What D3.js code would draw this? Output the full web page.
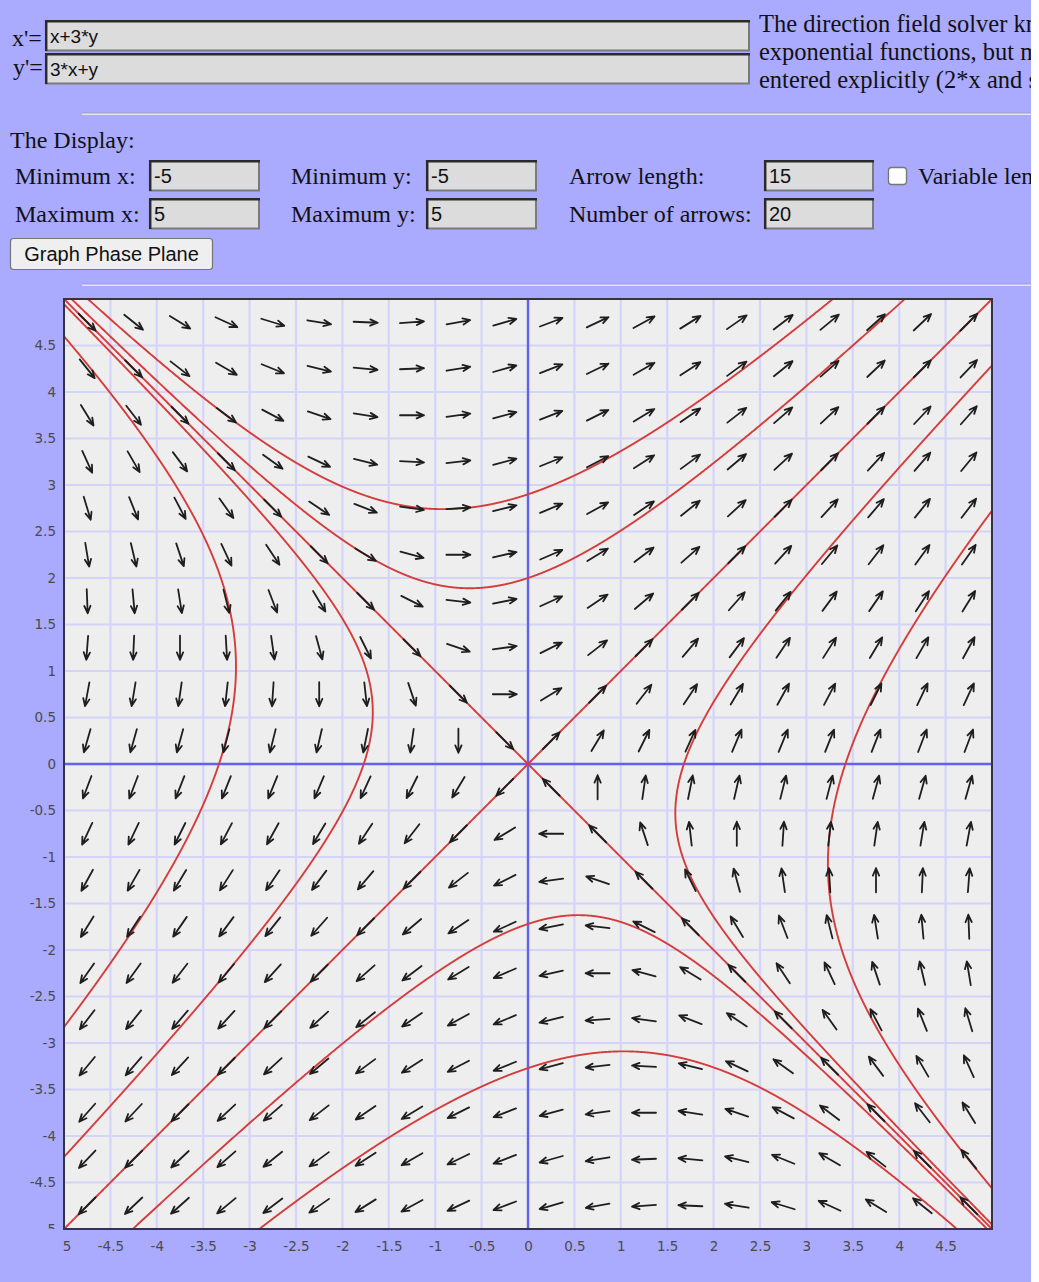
<!DOCTYPE html>
<html>
<head>
<meta charset="utf-8">
<script src="https://cdn.jsdelivr.net/npm/d3@7"></script>
<style>
  html, body { margin: 0; padding: 0; background: #aaaaff; overflow: hidden; }
  svg { display: block; }
</style>
</head>
<body>
<svg id="page" width="1039" height="1282"></svg>
<script>
// ---- system x' = x + 3y, y' = 3x + y ----
const xEquation = "x+3*y";
const yEquation = "3*x+y";
const xCoef = [1, 3];   // x' = a*x + b*y
const yCoef = [3, 1];   // y' = c*x + d*y

// display settings
const minX = -5, maxX = 5, minY = -5, maxY = 5;
const arrowLength = 15, arrowCount = 20;

// tick labels along each axis
const xTicks = [-5, -4.5, -4, -3.5, -3, -2.5, -2, -1.5, -1, -0.5, 0, 0.5, 1, 1.5, 2, 2.5, 3, 3.5, 4, 4.5];
const yTicks = [-5, -4.5, -4, -3.5, -3, -2.5, -2, -1.5, -1, -0.5, 0, 0.5, 1, 1.5, 2, 2.5, 3, 3.5, 4, 4.5];
const gridLines = [-5, -4.5, -4, -3.5, -3, -2.5, -2, -1.5, -1, -0.5, 0, 0.5, 1, 1.5, 2, 2.5, 3, 3.5, 4, 4.5, 5];

// direction-field sample positions (cell centres)
const arrowXs = [-4.75, -4.25, -3.75, -3.25, -2.75, -2.25, -1.75, -1.25, -0.75, -0.25,
                  0.25, 0.75, 1.25, 1.75, 2.25, 2.75, 3.25, 3.75, 4.25, 4.75];
const arrowYs = [-4.75, -4.25, -3.75, -3.25, -2.75, -2.25, -1.75, -1.25, -0.75, -0.25,
                  0.25, 0.75, 1.25, 1.75, 2.25, 2.75, 3.25, 3.75, 4.25, 4.75];

// starting points of the traced solution curves
const seedX = [-4.9, 4.9, 4.9, -4.9, 0, 0, 1.68, 3.42, -1.77, -3.33, 0, 0];
const seedY = [4.9, -4.9, 4.9, -4.9, 2.9, 2.0, 0, 0, 0, 0, -1.72, -3.27];

const svg = d3.select("#page");
const serif = "'Liberation Serif', 'Times New Roman', serif";
const sans = "'Liberation Sans', Arial, sans-serif";

// page background and right strip
svg.append("rect").attr("x", 0).attr("y", 0).attr("width", 1039).attr("height", 1282).attr("fill", "#aaaaff");
svg.append("rect").attr("x", 1031).attr("y", 0).attr("width", 8).attr("height", 1282).attr("fill", "#ffffff");

// ---------- form ----------
svg.append("clipPath").attr("id", "pageClip")
  .append("rect").attr("x", 0).attr("y", 0).attr("width", 1031).attr("height", 1282);
const formG = svg.append("g").attr("clip-path", "url(#pageClip)");

function textBox(x, y, w, h, value, fs) {
  const g = formG.append("g");
  g.append("rect").attr("x", x).attr("y", y).attr("width", w).attr("height", h).attr("fill", "#dcdcdc");
  g.append("path").attr("d", `M${x + w},${y + h - 0.5} H${x + 0.5} `).attr("stroke", "#7a7a7a").attr("stroke-width", 2).attr("fill", "none");
  g.append("path").attr("d", `M${x + w - 1},${y} V${y + h}`).attr("stroke", "#7a7a7a").attr("stroke-width", 2).attr("fill", "none");
  g.append("path").attr("d", `M${x + 1.2},${y + h} V${y + 1.2} H${x + w}`).attr("stroke", "#2a2a2a").attr("stroke-width", 2.5).attr("fill", "none");
  g.append("text").attr("x", x + 5).attr("y", y + h - 8).attr("font-family", sans).attr("font-size", fs)
    .attr("fill", "#111").text(value);
}
function label(x, y, txt, fs) {
  formG.append("text").attr("x", x).attr("y", y).attr("font-family", serif).attr("font-size", fs || 24)
    .attr("fill", "#111").text(txt);
}

label(12, 46, "x'=");
label(13, 75, "y'=");
textBox(45, 20, 705, 31, xEquation, 19);
textBox(45, 53, 705, 31, yEquation, 19);

const note = ["The direction field solver knows",
              "exponential functions, but multiplication",
              "entered explicitly (2*x and sin(x))."];
note.forEach((t, i) => label(759, 32 + i * 28, t, 24.5));

function rule(y) {
  formG.append("rect").attr("x", 82).attr("y", y).attr("width", 960).attr("height", 1).attr("fill", "#9a9ac8");
  formG.append("rect").attr("x", 82).attr("y", y + 1).attr("width", 960).attr("height", 1.5).attr("fill", "#e4e4f0");
}
rule(112.5);

label(10, 148, "The Display:");
label(15, 184, "Minimum x:");
label(15, 222, "Maximum x:");
label(291, 184, "Minimum y:");
label(291, 222, "Maximum y:");
label(569, 184, "Arrow length:");
label(569, 222, "Number of arrows:");
textBox(149, 160, 111, 31, String(minX), 20);
textBox(149, 198, 111, 31, String(maxX), 20);
textBox(426, 160, 111, 31, String(minY), 20);
textBox(426, 198, 111, 31, String(maxY), 20);
textBox(764, 160, 110, 31, String(arrowLength), 20);
textBox(764, 198, 110, 31, String(arrowCount), 20);
formG.append("rect").attr("x", 888.5).attr("y", 167.5).attr("width", 18).attr("height", 17).attr("rx", 3)
  .attr("fill", "#ffffff").attr("stroke", "#767676").attr("stroke-width", 1.3);
label(918, 184, "Variable length");

formG.append("rect").attr("x", 10.5).attr("y", 238.5).attr("width", 202).attr("height", 31).attr("rx", 3)
  .attr("fill", "#efefef").attr("stroke", "#767676").attr("stroke-width", 1.2);
formG.append("text").attr("x", 111.5).attr("y", 261).attr("text-anchor", "middle").attr("font-family", sans)
  .attr("font-size", 20).attr("fill", "#111").text("Graph Phase Plane");
rule(283.5);

// ---------- phase plane ----------
const plot = { left: 64, right: 992, top: 299, bottom: 1229 };
const x = d3.scaleLinear().domain([minX, maxX]).range([plot.left, plot.right]);
const y = d3.scaleLinear().domain([minY, maxY]).range([plot.bottom, plot.top]);

svg.append("clipPath").attr("id", "plotClip")
  .append("rect").attr("x", plot.left).attr("y", plot.top)
  .attr("width", plot.right - plot.left).attr("height", plot.bottom - plot.top);

svg.append("rect").attr("x", plot.left).attr("y", plot.top)
  .attr("width", plot.right - plot.left).attr("height", plot.bottom - plot.top).attr("fill", "#eeeeee");

const grid = svg.append("g").attr("clip-path", "url(#plotClip)");
grid.selectAll("line.gx").data(gridLines).join("line").attr("class", "gx")
  .attr("x1", d => x(d)).attr("x2", d => x(d)).attr("y1", plot.top).attr("y2", plot.bottom)
  .attr("stroke", "#d4d4fa").attr("stroke-width", 2.2);
grid.selectAll("line.gy").data(gridLines).join("line").attr("class", "gy")
  .attr("y1", d => y(d)).attr("y2", d => y(d)).attr("x1", plot.left).attr("x2", plot.right)
  .attr("stroke", "#d4d4fa").attr("stroke-width", 2.2);
grid.append("line").attr("x1", x(0)).attr("x2", x(0)).attr("y1", plot.top).attr("y2", plot.bottom)
  .attr("stroke", "#6262ee").attr("stroke-width", 2.4);
grid.append("line").attr("y1", y(0)).attr("y2", y(0)).attr("x1", plot.left).attr("x2", plot.right)
  .attr("stroke", "#6262ee").attr("stroke-width", 2.4);

// vector field
function field(px, py) {
  return [xCoef[0] * px + xCoef[1] * py, yCoef[0] * px + yCoef[1] * py];
}
function unitField(px, py) {
  const [a, b] = field(px, py);
  const n = Math.hypot(a, b);
  return n < 1e-12 ? [0, 0] : [a / n, b / n];
}

// solution curves, traced with unit-speed RK4 in both directions
function trace(x0, y0, dir) {
  const pts = [];
  let px = x0, py = y0;
  const h = 0.004 * dir;
  for (let i = 0; i < 12000; i++) {
    const k1 = unitField(px, py);
    const k2 = unitField(px + h / 2 * k1[0], py + h / 2 * k1[1]);
    const k3 = unitField(px + h / 2 * k2[0], py + h / 2 * k2[1]);
    const k4 = unitField(px + h * k3[0], py + h * k3[1]);
    px += h / 6 * (k1[0] + 2 * k2[0] + 2 * k3[0] + k4[0]);
    py += h / 6 * (k1[1] + 2 * k2[1] + 2 * k3[1] + k4[1]);
    if (Math.abs(px) > 5.3 || Math.abs(py) > 5.3) { pts.push([px, py]); break; }
    if (Math.hypot(px, py) < 0.004) { pts.push([0, 0]); break; }
    pts.push([px, py]);
  }
  return pts;
}
const curves = seedX.map((sx, i) => {
  const back = trace(sx, seedY[i], -1).reverse();
  const fwd = trace(sx, seedY[i], 1);
  return back.concat([[sx, seedY[i]]], fwd);
});
const line = d3.line().x(d => x(d[0])).y(d => y(d[1]));
svg.append("g").attr("clip-path", "url(#plotClip)")
  .selectAll("path").data(curves).join("path")
  .attr("d", line).attr("fill", "none").attr("stroke", "#d53c3c").attr("stroke-width", 1.9);

// arrows
const cells = [];
arrowYs.forEach(ay => arrowXs.forEach(ax => cells.push([ax, ay])));
const arrowPx = 24, headPx = 8, headAng = 23 * Math.PI / 180;
function arrowPath(d) {
  const [a, b] = unitField(d[0], d[1]);
  const sx = x(d[0] + a) - x(d[0]);
  const sy = y(d[1] + b) - y(d[1]);
  const n = Math.hypot(sx, sy);
  const ux = sx / n, uy = sy / n;
  const cx = x(d[0]), cy = y(d[1]);
  const tx = cx + ux * arrowPx / 2, ty = cy + uy * arrowPx / 2;
  const bx = cx - ux * arrowPx / 2, by = cy - uy * arrowPx / 2;
  const ang = Math.atan2(uy, ux);
  const h1x = tx - headPx * Math.cos(ang - headAng), h1y = ty - headPx * Math.sin(ang - headAng);
  const h2x = tx - headPx * Math.cos(ang + headAng), h2y = ty - headPx * Math.sin(ang + headAng);
  return `M${bx},${by}L${tx},${ty}M${h1x},${h1y}L${tx},${ty}L${h2x},${h2y}`;
}
svg.append("g").selectAll("path").data(cells).join("path")
  .attr("d", arrowPath).attr("fill", "none").attr("stroke", "#1e1e1e").attr("stroke-width", 1.8)
  .attr("stroke-linecap", "round").attr("stroke-linejoin", "round");

// frame
svg.append("rect").attr("x", plot.left).attr("y", plot.top)
  .attr("width", plot.right - plot.left).attr("height", plot.bottom - plot.top)
  .attr("fill", "none").attr("stroke", "#333344").attr("stroke-width", 2);

// axis labels (label strips are cropped at the plot corner)
svg.append("clipPath").attr("id", "yLabClip")
  .append("rect").attr("x", 0).attr("y", 290).attr("width", 62).attr("height", 939);
svg.append("clipPath").attr("id", "xLabClip")
  .append("rect").attr("x", 62).attr("y", 1231).attr("width", 969).attr("height", 40);

const fmt = d => String(d);
const yAxis = svg.append("g").attr("clip-path", "url(#yLabClip)").append("g")
  .attr("transform", `translate(${plot.left},0)`)
  .call(d3.axisLeft(y).tickValues(yTicks).tickFormat(fmt).tickSize(0).tickPadding(8));
const xAxis = svg.append("g").attr("clip-path", "url(#xLabClip)").append("g")
  .attr("transform", `translate(0,${plot.bottom})`)
  .call(d3.axisBottom(x).tickValues(xTicks).tickFormat(fmt).tickSize(0).tickPadding(12));
[yAxis, xAxis].forEach(g => {
  g.select(".domain").remove();
  g.selectAll("text").attr("font-family", "'DejaVu Sans', Verdana, sans-serif")
    .attr("font-size", 13.5).attr("fill", "#4a4a4a");
});
</script>
</body>
</html>
